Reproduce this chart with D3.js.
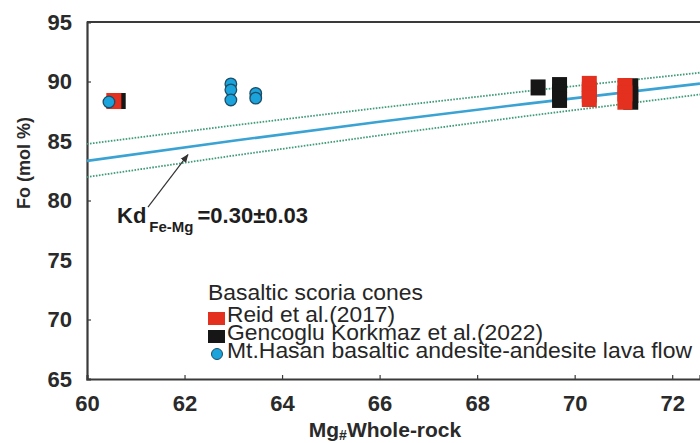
<!DOCTYPE html>
<html>
<head>
<meta charset="utf-8">
<script src="https://cdn.jsdelivr.net/npm/d3@7"></script>
<style>
  body { margin: 0; background: #fff; }
  svg { display: block; font-family: Arial, "Liberation Sans", sans-serif; }
</style>
</head>
<body>
<svg id="chart" width="700" height="443"></svg>
<script>
// data (Mg# whole-rock vs Fo mol %)
const reidMg = [60.55, 70.30, 70.30, 70.30, 70.30, 71.03, 71.03, 71.03];
const reidFo = [88.36, 89.80, 89.30, 88.90, 88.53, 89.62, 89.00, 88.30];

const gencMg = [60.64, 69.25, 69.69, 69.69, 69.69, 71.15, 71.15, 71.15];
const gencFo = [88.36, 89.50, 89.70, 89.10, 88.45, 89.60, 88.90, 88.30];

const hasanMg = [60.45, 62.95, 62.95, 62.95, 63.46, 63.46];
const hasanFo = [88.28, 89.80, 89.30, 88.45, 89.00, 88.60];

// equilibrium curves, Kd 0.30 and the 0.27 / 0.33 envelope
const curveMg = [60, 63, 66, 69, 72.57];
const kdMid = [83.33, 85.02, 86.62, 88.12, 89.82];
const kdHigh = [84.75, 86.31, 87.79, 89.18, 90.74];
const kdLow = [81.97, 83.77, 85.47, 87.09, 88.91];

const xTicks = [60, 62, 64, 66, 68, 70, 72];
const yTicks = [65, 70, 75, 80, 85, 90, 95];

const legendLabels = ['Reid et al.(2017)', 'Gencoglu Korkmaz et al.(2022)', 'Mt.Hasan basaltic andesite-andesite lava flow'];
const legendWidths = [168, 316, 465];

const svg = d3.select('#chart');

const x = d3.scaleLinear().domain([60, 72.57]).range([87, 700]);
const y = d3.scaleLinear().domain([65, 95]).range([379, 22]);

const g = svg.append('g');

g.append('defs').append('clipPath').attr('id', 'plot')
  .append('rect').attr('x', 87).attr('y', 22).attr('width', 613).attr('height', 357);

// axes
const xAxis = g.append('g')
  .attr('transform', 'translate(0,379)')
  .call(d3.axisBottom(x).tickValues(xTicks).tickSize(-4).tickPadding(16).tickFormat(d3.format('d')));
const yAxis = g.append('g')
  .attr('transform', 'translate(87,0)')
  .call(d3.axisLeft(y).tickValues(yTicks).tickSize(-4).tickPadding(15).tickFormat(d3.format('d')));

[xAxis, yAxis].forEach(function (a) {
  a.select('.domain').attr('stroke', '#3a3a3a').attr('stroke-width', 2.2);
  a.selectAll('.tick line').attr('stroke', '#3a3a3a').attr('stroke-width', 1.2);
  a.selectAll('.tick text')
    .attr('fill', '#2a2a2a')
    .style('font-size', '22px')
    .style('font-weight', 'bold');
});
xAxis.selectAll('.tick').filter(function (d) { return d === 60; }).select('line').remove();
yAxis.selectAll('.tick').filter(function (d) { return d % 10 !== 0 || d === 65 || d === 95; }).select('line').remove();

// top border
g.append('line')
  .attr('x1', x(60)).attr('x2', 700)
  .attr('y1', y(95)).attr('y2', y(95))
  .attr('stroke', '#3a3a3a').attr('stroke-width', 2.2);

// curves
const line = d3.line().x(function (d) { return x(d[0]); }).y(function (d) { return y(d[1]); });
const curves = g.append('g').attr('clip-path', 'url(#plot)');

[kdHigh, kdLow].forEach(function (vals) {
  curves.append('path')
    .attr('d', line(d3.zip(curveMg, vals)))
    .attr('fill', 'none')
    .attr('stroke', '#3f9c78')
    .attr('stroke-width', 1.8)
    .attr('stroke-dasharray', '1.6,1.4');
});
curves.append('path')
  .attr('d', line(d3.zip(curveMg, kdMid)))
  .attr('fill', 'none')
  .attr('stroke', '#3aa3d3')
  .attr('stroke-width', 2.6);

// points
const pts = g.append('g');
const sqW = 15, sqH = 16;

pts.selectAll('rect.genc')
  .data(d3.zip(gencMg, gencFo))
  .enter().append('rect')
  .attr('class', 'genc')
  .attr('x', function (d) { return x(d[0]) - sqW / 2; })
  .attr('y', function (d) { return y(d[1]) - sqH / 2; })
  .attr('width', sqW).attr('height', sqH)
  .attr('fill', '#161616');

pts.selectAll('rect.reid')
  .data(d3.zip(reidMg, reidFo))
  .enter().append('rect')
  .attr('class', 'reid')
  .attr('x', function (d) { return x(d[0]) - sqW / 2; })
  .attr('y', function (d) { return y(d[1]) - sqH / 2; })
  .attr('width', sqW).attr('height', sqH)
  .attr('fill', '#e3301f');

pts.selectAll('circle')
  .data(d3.zip(hasanMg, hasanFo))
  .enter().append('circle')
  .attr('cx', function (d) { return x(d[0]); })
  .attr('cy', function (d) { return y(d[1]); })
  .attr('r', 5.8)
  .attr('fill', '#1ba3dc')
  .attr('stroke', '#1d4d66').attr('stroke-width', 1.3);

// Kd annotation
svg.append('defs').append('marker')
  .attr('id', 'arr').attr('viewBox', '0 0 10 10')
  .attr('refX', 9).attr('refY', 5)
  .attr('markerWidth', 7).attr('markerHeight', 7)
  .attr('orient', 'auto')
  .append('path').attr('d', 'M0,1L10,5L0,9Z').attr('fill', '#333');

g.append('line')
  .attr('x1', x(61.25)).attr('y1', y(79.45))
  .attr('x2', x(62.07)).attr('y2', y(83.85))
  .attr('stroke', '#333').attr('stroke-width', 1.2)
  .attr('marker-end', 'url(#arr)');

const kd = g.append('text')
  .attr('x', 117).attr('y', 223)
  .attr('fill', '#1e1e1e')
  .style('font-weight', 'bold')
  .style('font-size', '22px');
kd.append('tspan').text('Kd');
kd.append('tspan').attr('dx', 3).attr('dy', 9).style('font-size', '15px').text('Fe-Mg');
kd.append('tspan').attr('dx', 4).attr('dy', -9).text('=0.30±0.03');

// axis titles
g.append('text')
  .attr('transform', 'translate(30,163) rotate(-90)')
  .attr('text-anchor', 'middle')
  .attr('fill', '#2a2a2a')
  .style('font-weight', 'bold')
  .style('font-size', '18px')
  .text('Fo (mol %)');

const xt = g.append('text')
  .attr('x', 385).attr('y', 437)
  .attr('text-anchor', 'middle')
  .attr('fill', '#2a2a2a')
  .style('font-weight', 'bold')
  .style('font-size', '21px');
xt.append('tspan').text('Mg');
xt.append('tspan').attr('dy', 3).style('font-size', '14px').text('#');
xt.append('tspan').attr('dy', -3).text('Whole-rock');

// legend
const lg = g.append('g').style('font-size', '22px').attr('fill', '#262626');
lg.append('text').attr('x', 208).attr('y', 300)
  .attr('textLength', 215).attr('lengthAdjust', 'spacingAndGlyphs')
  .text('Basaltic scoria cones');

lg.append('rect').attr('x', 208).attr('y', 312).attr('width', 17).attr('height', 13).attr('fill', '#e3301f');
lg.append('rect').attr('x', 208).attr('y', 330).attr('width', 17).attr('height', 13).attr('fill', '#161616');
lg.append('circle').attr('cx', 217).attr('cy', 354).attr('r', 5.5)
  .attr('fill', '#1ba3dc').attr('stroke', '#1d4d66').attr('stroke-width', 1);

lg.selectAll('text.item')
  .data(legendLabels)
  .enter().append('text')
  .attr('class', 'item')
  .attr('x', 227)
  .attr('y', function (d, i) { return 322 + i * 18; })
  .attr('textLength', function (d, i) { return legendWidths[i]; })
  .attr('lengthAdjust', 'spacingAndGlyphs')
  .text(function (d) { return d; });
</script>
</body>
</html>
